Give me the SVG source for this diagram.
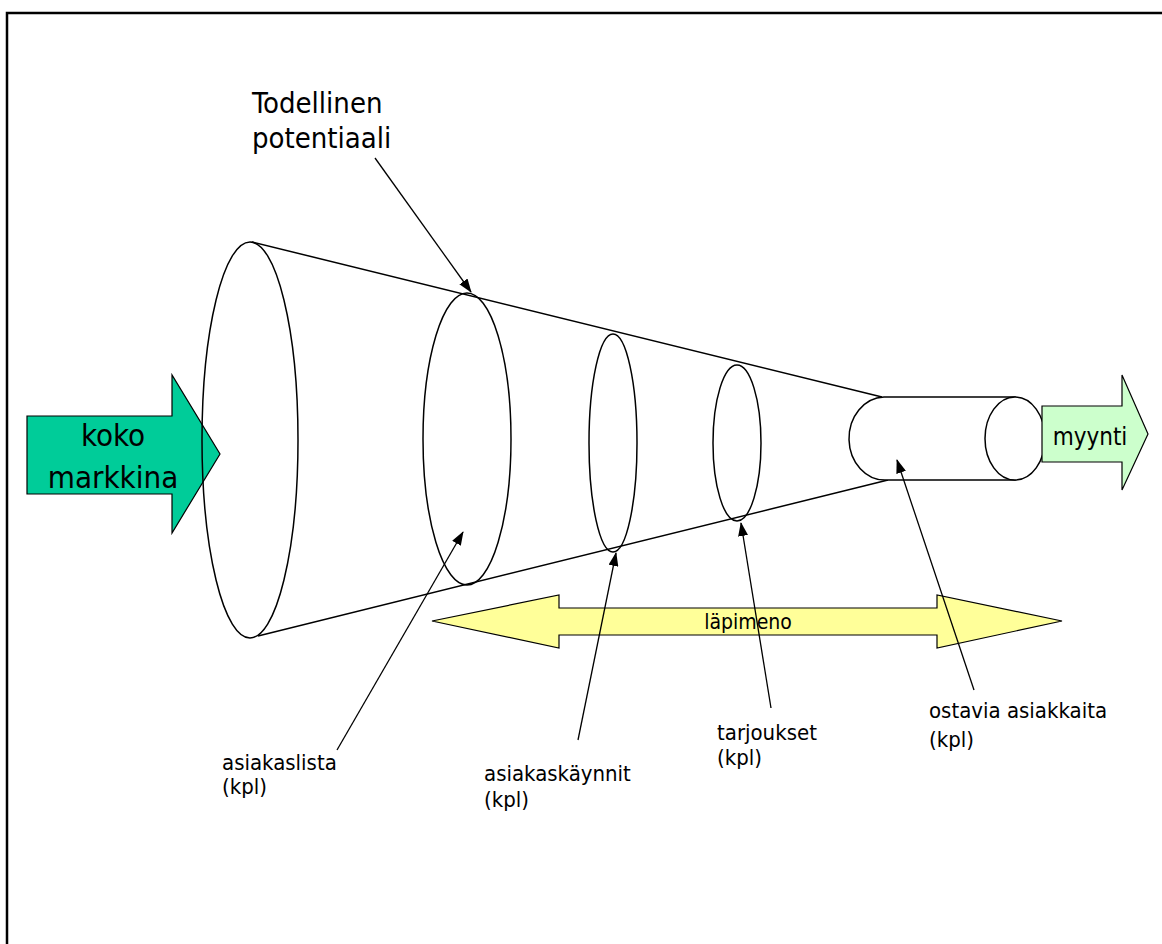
<svg xmlns="http://www.w3.org/2000/svg" width="1162" height="944" viewBox="0 0 1162 944">
<defs>
<style>
.ln{fill:none;stroke:#000;stroke-width:1.5}
.sh{fill:#fff;stroke:#000;stroke-width:1.5}
.t{font-family:'DejaVu Sans Condensed','DejaVu Sans',sans-serif;font-stretch:condensed;fill:#000}
.ptr{fill:none;stroke:#000;stroke-width:1.3;marker-end:url(#ah)}
</style>
<marker id="ah" markerUnits="userSpaceOnUse" markerWidth="14" markerHeight="10" refX="13" refY="5" orient="auto">
<path d="M0,0 L14,5 L0,10 z" fill="#000"/>
</marker>
</defs>
<rect width="1162" height="944" fill="#fff"/>
<path d="M7,944 V13 H1162" fill="none" stroke="#000" stroke-width="2.5"/>

<g id="koko-markkina">
<path d="M27,416 H172 V375 L220,454 L172,533 V494 H27 Z" fill="#00CC99" stroke="#000" stroke-width="1.2"/>
<text class="t" x="113" y="446" font-size="31" text-anchor="middle">koko</text>
<text class="t" x="113" y="488" font-size="31" text-anchor="middle">markkina</text>
</g>

<g id="cone">
<line class="ln" x1="252" y1="242" x2="882" y2="397"/>
<line class="ln" x1="258" y1="636" x2="888" y2="480"/>
</g>

<g id="ellipse-markkina"><ellipse class="ln" cx="250" cy="440" rx="48" ry="198"/></g>
<g id="ellipse-asiakaslista"><ellipse class="ln" cx="467" cy="439" rx="44" ry="146"/></g>
<g id="ellipse-kaynnit"><ellipse class="ln" cx="613" cy="443" rx="24" ry="109"/></g>
<g id="ellipse-tarjoukset"><ellipse class="ln" cx="737" cy="443" rx="24" ry="78"/></g>

<g id="cylinder">
<path class="sh" d="M884,397 H1015 V480 H886 A36,41.5 0 0 1 884,397 Z"/>
<ellipse class="sh" cx="1015" cy="438.5" rx="30" ry="41.5"/>
</g>

<g id="myynti">
<path d="M1042,406 H1122 V375 L1148,434 L1122,490 V462 H1042 Z" fill="#CCFFCC" stroke="#000" stroke-width="1.2"/>
<text class="t" x="1090" y="445" font-size="24" text-anchor="middle">myynti</text>
</g>

<g id="lapimeno">
<path d="M432,621 L559,595 V608 H937 V595 L1062,621 L937,648 V635 H559 V648 Z" fill="#FFFF99" stroke="#000" stroke-width="1.2"/>
<text class="t" x="748" y="629" font-size="21" text-anchor="middle">läpimeno</text>
</g>

<g id="connectors">
<line class="ptr" x1="375" y1="158" x2="471" y2="292"/>
<line class="ptr" x1="337" y1="750" x2="463" y2="532"/>
<line class="ptr" x1="578" y1="740" x2="616" y2="553"/>
<line class="ptr" x1="771" y1="708" x2="741" y2="523"/>
<line class="ptr" x1="974" y1="690" x2="897" y2="460"/>
</g>

<g id="label-potentiaali">
<text class="t" x="252" y="113" font-size="29">Todellinen</text>
<text class="t" x="252" y="148" font-size="29">potentiaali</text>
</g>
<g id="label-asiakaslista">
<text class="t" x="222" y="770" font-size="22">asiakaslista</text>
<text class="t" x="222" y="794" font-size="22">(kpl)</text>
</g>
<g id="label-kaynnit">
<text class="t" x="484" y="781" font-size="22">asiakaskäynnit</text>
<text class="t" x="484" y="807" font-size="22">(kpl)</text>
</g>
<g id="label-tarjoukset">
<text class="t" x="717" y="740" font-size="22">tarjoukset</text>
<text class="t" x="717" y="765" font-size="22">(kpl)</text>
</g>
<g id="label-ostavia">
<text class="t" x="929" y="718" font-size="22">ostavia asiakkaita</text>
<text class="t" x="929" y="747" font-size="22">(kpl)</text>
</g>
</svg>
